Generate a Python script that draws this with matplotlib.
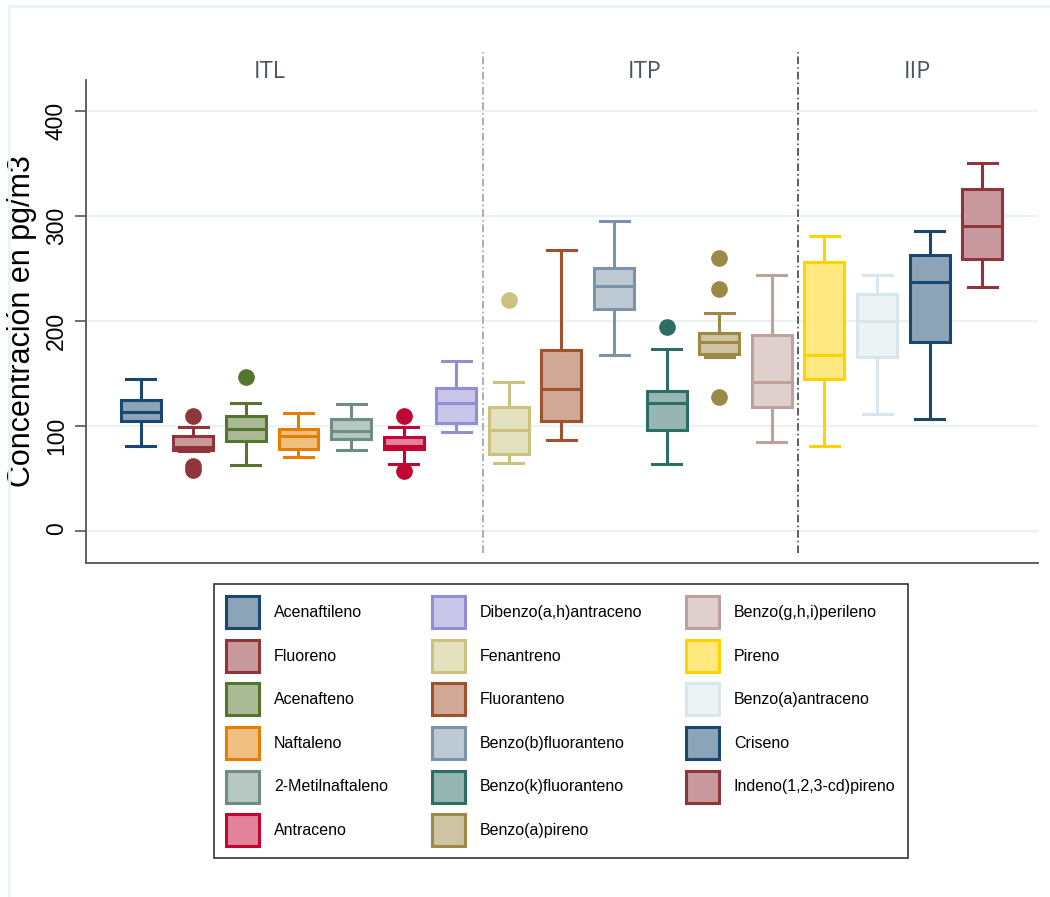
import matplotlib
matplotlib.use("Agg")
import matplotlib.pyplot as plt
import matplotlib.colors as mcolors
from matplotlib.patches import Patch
from matplotlib.lines import Line2D
import numpy as np

# concentraciones (pg/m3) por compuesto: cuartiles, bigotes y atípicos
names = ["Acenaftileno", "Fluoreno", "Acenafteno", "Naftaleno", "2-Metilnaftaleno",
         "Antraceno", "Dibenzo(a,h)antraceno", "Fenantreno", "Fluoranteno",
         "Benzo(b)fluoranteno", "Benzo(k)fluoranteno", "Benzo(a)pireno",
         "Benzo(g,h,i)perileno", "Pireno", "Benzo(a)antraceno", "Criseno",
         "Indeno(1,2,3-cd)pireno"]
q1 = [104.8, 77.0, 85.7, 78.1, 87.6, 77.8, 102.5, 73.3, 104.8, 211.7, 96.5, 168.6,
      117.8, 144.8, 166.0, 179.7, 258.7]
med = [113.0, 80.0, 97.1, 90.8, 95.6, 80.5, 121.6, 96.5, 135.6, 233.3, 121.6, 180.3,
       141.6, 167.6, 200.3, 236.8, 290.5]
q3 = [124.8, 90.8, 109.5, 97.1, 106.3, 89.8, 135.9, 117.8, 172.4, 250.8, 133.3, 188.9,
      186.7, 256.5, 225.7, 262.9, 325.7]
whislo = [81.0, 76.0, 62.9, 70.8, 76.8, 63.8, 94.6, 64.4, 86.7, 167.9, 63.5, 165.4,
          85.0, 81.0, 111.1, 107.0, 232.0]
whishi = [144.8, 99.4, 122.2, 112.7, 121.0, 99.4, 161.9, 142.2, 267.6, 295.6, 173.0, 208.0,
          243.8, 281.3, 243.8, 285.7, 350.2]
fliers = [[], [109.5, 62.0, 58.0], [147.0], [], [], [109.8, 57.0], [], [220.0], [], [],
          [194.3], [259.7, 230.2, 127.3], [], [], [], [], []]

groups = ["ITL", "ITP", "IIP"]
group_label_x = [2.46, 9.59, 14.76]
group_breaks = [6.5, 12.5]

# paleta s2color de Stata
edges = ["#1a476f", "#90353b", "#55752f", "#e37e00", "#6e8e84", "#c10534", "#938dd2",
         "#cac27e", "#a0522d", "#7b92a8", "#2d6d66", "#9c8847", "#bfa19c", "#ffd200",
         "#d9e6eb", "#1a476f", "#90353b"]


def tint(c, k=0.5):
    r = np.array(mcolors.to_rgb(c))
    return tuple(r * k + (1 - k))


fills = [tint(c) for c in edges]

W, H = 1050, 897
fig = plt.figure(figsize=(W / 100, H / 100), dpi=100)
ax = fig.add_axes([86 / W, 1 - 562.5 / H, (1038 - 86) / W, (562.5 - 80) / H])

lw = 2.2
for i in range(len(names)):
    st = dict(med=med[i], q1=q1[i], q3=q3[i], whislo=whislo[i], whishi=whishi[i],
              fliers=fliers[i])
    ax.bxp([st], positions=[i], widths=0.76, capwidths=0.55, patch_artist=True,
           boxprops=dict(facecolor=fills[i], edgecolor=edges[i], linewidth=lw),
           medianprops=dict(color=edges[i], linewidth=lw),
           whiskerprops=dict(color=edges[i], linewidth=lw),
           capprops=dict(color=edges[i], linewidth=lw),
           flierprops=dict(marker="o", markerfacecolor=edges[i], markeredgecolor=edges[i],
                           markersize=11))

ax.set_xlim(-1.04, 17.06)
ax.set_ylim(-30, 429.5)
ax.set_xticks([])
ax.set_yticks([0, 100, 200, 300, 400])
ax.yaxis.grid(True, color="#eaf2f3", linewidth=1.6)
ax.set_axisbelow(True)
for s in ["top", "right"]:
    ax.spines[s].set_visible(False)
for s in ["left", "bottom"]:
    ax.spines[s].set_color("#555555")
    ax.spines[s].set_linewidth(1.3)
ax.tick_params(axis="y", labelrotation=90, length=8, width=1.2, color="#555555", pad=5,
               labelsize=16.5)
for t in ax.get_yticklabels():
    t.set_fontfamily("Liberation Sans")
ax.set_ylabel("Concentración en pg/m3", fontsize=22, family="Liberation Sans")
ax.yaxis.set_label_coords((37 - 86) / 952, 0.5)

# separadores entre grupos
ax.axvline(group_breaks[0], ymin=0.0197, ymax=1.058, color="#999999", lw=1.1,
           ls=(0, (5, 2, 1, 2)), clip_on=False)
ax.axvline(group_breaks[1], ymin=0.0197, ymax=1.058, color="#333333", lw=1.1,
           ls=(0, (5, 2, 1, 2)), clip_on=False)
for g, gx in zip(groups, group_label_x):
    ax.text(gx, 437, g, ha="center", va="center", fontsize=17, family="Open Sans",
            color="#4b5563", clip_on=False)

# marco exterior claro
fig.add_artist(Line2D([9 / W, 1], [1 - 6 / H, 1 - 6 / H], color="#eaf2f3", lw=2))
fig.add_artist(Line2D([9 / W, 9 / W], [0, 1 - 6 / H], color="#eaf2f3", lw=2))

handles = [Patch(facecolor=f, edgecolor=e, linewidth=lw) for f, e in zip(fills, edges)]
leg = fig.legend(handles, names, ncol=3, loc="center", bbox_to_anchor=(0.534, 0.196),
                 frameon=True, fancybox=False, edgecolor="#333333", framealpha=1,
                 prop=dict(family="Liberation Sans", size=11.5),
                 handlelength=2.06, handleheight=2.7, handletextpad=0.94,
                 labelspacing=0.73, columnspacing=2.75, borderpad=0.75)
leg.get_frame().set_linewidth(1.2)

fig.savefig("out.png", dpi=100)
